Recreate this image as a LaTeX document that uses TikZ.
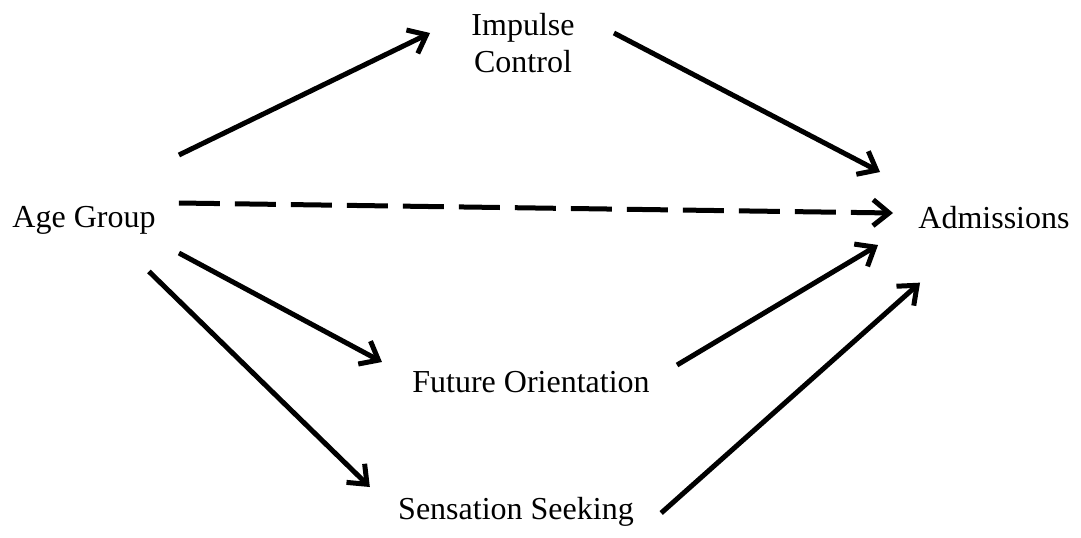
\documentclass[tikz,border=0pt]{standalone}
\usepackage{fontspec}
\setmainfont{Liberation Serif}
\usepackage{xcolor}
\definecolor{cMain}{HTML}{000000}
\usepackage{tikz}
\usetikzlibrary{arrows.meta}
\tikzset{
  node-var/.style={inner sep=0pt,align=center,text=cMain,
    font=\fontsize{16}{18.5}\selectfont},
  arrow/.style={-{Straight Barb[length=8pt,width=13pt]},line width=2.5pt,draw=cMain},
  arrow-direct/.style={arrow,dash pattern=on 20.5pt off 7.5pt},
}

\begin{document}
\begin{tikzpicture}[x=0.5pt,y=-0.5pt]
  \useasboundingbox (0,0) rectangle (1081,537);
  % variables
  \node[node-var] (age) at (84,220)  {Age Group};
  \node[node-var] (imp) at (523,43)  {Impulse\\Control};
  \node[node-var] (adm) at (994,218) {Admissions};
  \node[node-var] (fut) at (531,382) {Future Orientation};
  \node[node-var] (sen) at (516,512) {Sensation Seeking};
  % paths via mediators
  \draw[arrow] ([shift={(23,-65)}]age.east) -- ([shift={(-41,-10)}]imp.west);
  \draw[arrow] ([shift={(39,-10)}]imp.east)  -- ([shift={(-38,-46)}]adm.west);
  \draw[arrow] ([shift={(23,33)}]age.east)  -- ([shift={(-30,-20)}]fut.west);
  \draw[arrow] ([shift={(27,-17)}]fut.east) -- ([shift={(-40,27)}]adm.west);
  \draw[arrow] ([shift={(-7,37)}]age.south east) -- ([shift={(-28,-25)}]sen.west);
  \draw[arrow] ([shift={(27,1)}]sen.east)   -- ([shift={(2,53)}]adm.south west);
  % direct effect
  \draw[arrow-direct] ([shift={(23,-17)}]age.east) -- ([shift={(-25,-5)}]adm.west);
\end{tikzpicture}
\end{document}
